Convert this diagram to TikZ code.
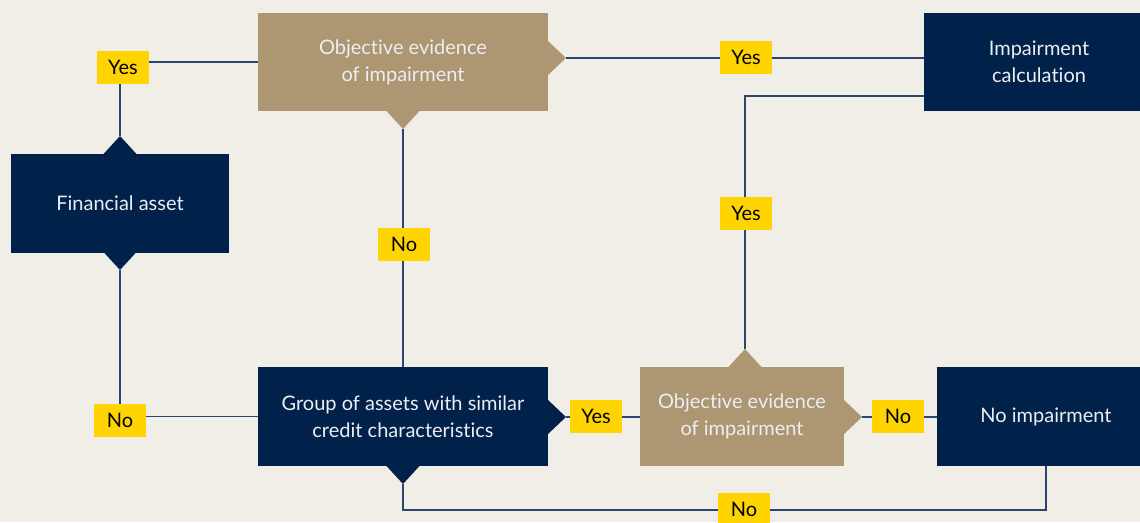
\documentclass[tikz,border=0pt]{standalone}
\usepackage{fontspec}
\setmainfont[Ligatures=NoCommon]{Lato}
\definecolor{bg}{HTML}{F1EEE8}
\definecolor{navy}{HTML}{00224A}
\definecolor{tan}{HTML}{AD9773}
\definecolor{lab}{HTML}{FFD400}
\definecolor{wire}{HTML}{2A4670}
\definecolor{txt}{HTML}{EDEDF2}
\begin{document}
\begin{tikzpicture}[x=1pt,y=-1pt,
  box/.style={rectangle,inner sep=0pt,align=center,text=txt,font=\fontsize{20}{27}\selectfont},
  navybox/.style={box,fill=navy},
  tanbox/.style={box,fill=tan},
  tag/.style={rectangle,fill=lab,inner sep=0pt,minimum width=52pt,minimum height=33pt,text=black,font=\fontsize{20}{22}\selectfont},
  link/.style={draw=wire,line width=1.4pt}]
\useasboundingbox (0,0) rectangle (1140,522);
\clip (0,0) rectangle (1140,522);
\fill[bg] (0,0) rectangle (1140,522);

\coordinate (fatop) at (120,136);
\coordinate (fabot) at (120,270);
\coordinate (oe1r) at (566,58);
\coordinate (oe1b) at (403,129);
\coordinate (grpr) at (566,417);
\coordinate (grpb) at (403,484);
\coordinate (oe2t) at (745,349);
\coordinate (oe2r) at (862,417);
\coordinate (icl) at (924,96);
\coordinate (bot) at (403,510);

\node[navybox,minimum width=218pt,minimum height=99pt] (fa) at (120,203.5) {Financial asset};
\node[tanbox,minimum width=290pt,minimum height=98pt] (oe1) at (403,62) {Objective evidence\\of impairment};
\node[navybox,minimum width=230pt,minimum height=98pt] (ic) at (1039,62) {Impairment\\calculation};
\node[navybox,minimum width=290pt,minimum height=99pt] (grp) at (403,416.5) {Group of assets with similar\\credit characteristics};
\node[tanbox,minimum width=204pt,minimum height=99pt] (oe2) at (742,416.5) {Objective evidence\\of impairment};
\node[navybox,minimum width=218pt,minimum height=99pt] (ni) at (1046,416.5) {No impairment};

% pointers
\fill[navy] (fatop) -- ++(16.5,18) -- ++(-33,0) -- cycle;
\fill[navy] (fabot) -- ++(16.5,-18) -- ++(-33,0) -- cycle;
\fill[tan] (oe1r) -- ++(-18,-17) -- ++(0,34) -- cycle;
\fill[tan] (oe1b) -- ++(16.5,-18) -- ++(-33,0) -- cycle;
\fill[navy] (grpr) -- ++(-18,-17) -- ++(0,34) -- cycle;
\fill[navy] (grpb) -- ++(16.5,-18) -- ++(-33,0) -- cycle;
\fill[tan] (oe2t) -- ++(16.5,18) -- ++(-33,0) -- cycle;
\fill[tan] (oe2r) -- ++(-18,-17) -- ++(0,34) -- cycle;

% connectors
\path[link] (fatop) |- (oe1.west);
\path[link] (oe1r) -- (oe1r -| ic.west);
\path[link] (icl) -| (oe2t);
\path[link] (oe1b) -- (grp.north);
\path[link] (fabot) |- (grp.west);
\path[link] (grpr) -- (grpr -| oe2.west);
\path[link] (oe2r) -- (oe2r -| ni.west);
\path[link] (grpb) -- (bot) -| (ni.south);

% labels
\node[tag] (y1) at (123,67.5) {Yes};
\node[tag] (y2) at (746,57.5) {Yes};
\node[tag] (y3) at (746,213.5) {Yes};
\node[tag] (n1) at (404,244.5) {No};
\node[tag] (n2) at (120,420.5) {No};
\node[tag] (y4) at (596,416.5) {Yes};
\node[tag] (n3) at (898,416.5) {No};
\node[tag] (n4) at (744,509.5) {No};
\end{tikzpicture}
\end{document}
